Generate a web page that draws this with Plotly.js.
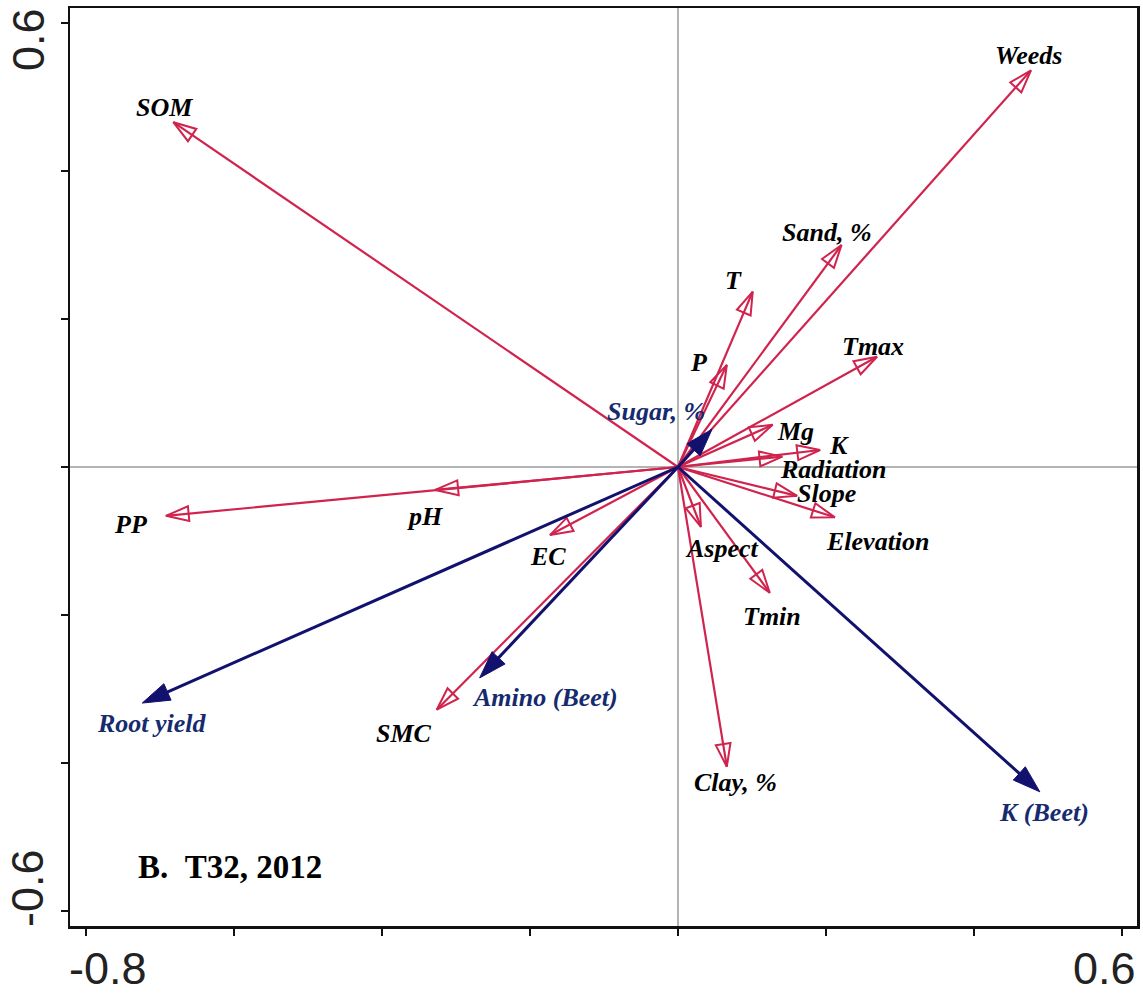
<!DOCTYPE html>
<html><head><meta charset="utf-8">
<script src="https://cdn.plot.ly/plotly-3.0.1.min.js"></script>
<style>html,body{margin:0;padding:0;background:#fff}#chart{width:1143px;height:993px}</style>
</head><body><div id="chart"></div>
<script>
// Environmental variables (red, open arrows)
const envNames = ['Weeds','SOM','Sand, %','T','P','Tmax','Mg','K','Radiation','Slope','Elevation','Aspect','Tmin','Clay, %','SMC','EC','pH','PP'];
const envX = [0.477,-0.682,0.221,0.101,0.066,0.269,0.128,0.192,0.141,0.161,0.212,0.031,0.124,0.066,-0.326,-0.173,-0.328,-0.692];
const envY = [0.536,0.466,0.300,0.237,0.138,0.149,0.057,0.023,0.014,-0.039,-0.068,-0.081,-0.170,-0.405,-0.328,-0.092,-0.031,-0.066];
// Response variables (blue, filled arrows)
const respNames = ['Sugar, %','Root yield','Amino (Beet)','K (Beet)'];
const respX = [0.046,-0.724,-0.268,0.489];
const respY = [0.051,-0.319,-0.285,-0.439];
// Axis ticks
const xTickVals = [-0.8,-0.6,-0.4,-0.2,0,0.2,0.4,0.6];
const yTickVals = [-0.6,-0.4,-0.2,0,0.2,0.4,0.6];
const xLabelVals = [-0.8,0.6];
const xLabelText = ['-0.8','0.6'];
const yLabelVals = [0.6,-0.6];
const yLabelText = ['0.6','-0.6'];
const panelLabel = 'B.\u00a0\u00a0T32, 2012';

// label offsets in pixels (dx right, dy down) from arrow tip
const labelOffset = {
  'Weeds':[-2,-15],'SOM':[-9,-15],'Sand, %':[-15,-13],'T':[-19,-11],'P':[-28,-2],'Tmax':[-4,-10],
  'Mg':[23,7],'K':[19,-4],'Radiation':[51,13],'Slope':[29,-2],'Elevation':[43,24],'Aspect':[21,22],
  'Tmin':[2,24],'Clay, %':[9,16],'SMC':[-33,24],'EC':[-2,21],'pH':[-10,27],'PP':[-35,9],
  'Sugar, %':[-56,-18],'Root yield':[10,20],'Amino (Beet)':[65,20],'K (Beet)':[4,21]
};

const RED = '#d0234e', BLUE = '#12126e', BLUE_TXT = '#162a6e';
const traces = [];
const annotations = [];
function addVec(name, x, y, color, txtColor, filled) {
  traces.push({
    type:'scatter', mode:'lines+markers', x:[0,x], y:[0,y], hoverinfo:'skip', showlegend:false,
    line:{color:color, width: filled ? 3 : 2.2},
    marker:{symbol: filled ? 'arrow' : 'arrow-open', angleref:'previous', size:[0, filled ? 29 : 24],
            opacity:1, color:color, line:{color:color, width: filled ? 1 : 2}},
    cliponaxis:false
  });
  const off = labelOffset[name] || [0,0];
  annotations.push({
    x:x, y:y, xref:'x', yref:'y', text:name, showarrow:false,
    xanchor:'center', yanchor:'middle', xshift:off[0], yshift:-off[1],
    font:{family:'Liberation Serif, Times New Roman, serif', size:26, color:txtColor, weight:'bold', style:'italic'}
  });
}
envNames.forEach((n,i)=>addVec(n, envX[i], envY[i], RED, '#000', false));
respNames.forEach((n,i)=>addVec(n, respX[i], respY[i], BLUE, BLUE_TXT, true));

const tickFont = {family:'Liberation Sans, Arial, sans-serif', size:45, color:'#222'};
xLabelVals.forEach((v,i)=>annotations.push({
  x:v, xref:'x', y:0, yref:'paper', text:xLabelText[i], showarrow:false,
  xanchor:'center', yanchor:'middle', xshift: i===0 ? 22 : -17, yshift:-42, font:tickFont
}));
yLabelVals.forEach((v,i)=>annotations.push({
  x:0, xref:'paper', y:v, yref:'y', text:yLabelText[i], showarrow:false, textangle:-90,
  xanchor:'center', yanchor:'middle', xshift:-42, yshift: i===0 ? -17 : 23, font:tickFont
}));
annotations.push({
  x:-0.606, y:-0.540, xref:'x', yref:'y', text:panelLabel, showarrow:false,
  xanchor:'center', yanchor:'middle',
  font:{family:'Liberation Serif, Times New Roman, serif', size:33, color:'#000', weight:'bold'}
});

const layout = {
  width:1143, height:993,
  margin:{l:70, r:6, t:8, b:67, pad:0},
  paper_bgcolor:'#fff', plot_bgcolor:'#fff',
  showlegend:false,
  xaxis:{range:[-0.8216,0.6203], tickvals:xTickVals, showticklabels:false, ticks:'outside', ticklen:7, tickwidth:2, tickcolor:'#111',
         showline:true, linecolor:'#111', linewidth:2.5, mirror:true, showgrid:false,
         zeroline:true, zerolinecolor:'#b4b4b4', zerolinewidth:2},
  yaxis:{range:[-0.6203,0.6203], tickvals:yTickVals, showticklabels:false, ticks:'outside', ticklen:7, tickwidth:2, tickcolor:'#111',
         showline:true, linecolor:'#111', linewidth:2.5, mirror:true, showgrid:false,
         zeroline:true, zerolinecolor:'#b4b4b4', zerolinewidth:2},
  annotations:annotations
};
Plotly.newPlot('chart', traces, layout, {displayModeBar:false, staticPlot:true});
</script>
</body></html>
